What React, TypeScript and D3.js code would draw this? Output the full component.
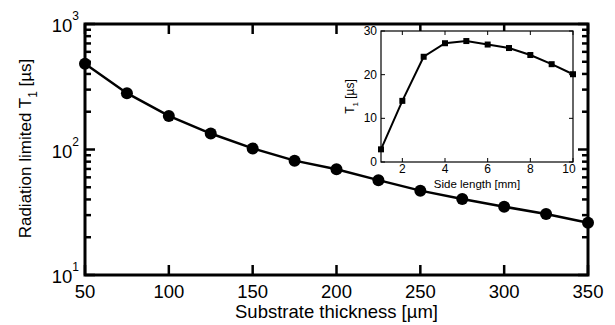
import React from "react";
import * as d3 from "d3";

const thickness = [50, 75, 100, 125, 150, 175, 200, 225, 250, 275, 300, 325, 350];
const t1Main = [482, 281, 185, 134, 102, 81.5, 69.5, 57, 47, 40.3, 35, 30.6, 26.1];
const xTicks = [50, 100, 150, 200, 250, 300, 350];
const yMajor = [10, 100, 1000];
const yExp = ["1", "2", "3"];

const sideLength = [1, 2, 3, 4, 5, 6, 7, 8, 9, 10];
const t1Inset = [2.9, 14.0, 24.1, 27.2, 27.7, 26.9, 26.1, 24.5, 22.4, 20.1];
const insetXTicks = [2, 4, 6, 8, 10];
const insetYTicks = [0, 10, 20, 30];

export default function App() {
  const L = 85, R = 588, T = 24, B = 275;
  const x = d3.scaleLinear().domain([50, 350]).range([L, R]);
  const y = d3.scaleLog().domain([10, 1000]).range([B, T]);
  const minor: number[] = [];
  for (const dec of [10, 100]) for (let k = 2; k <= 9; k++) minor.push(dec * k);

  const line = d3.line<number>().x((_, i) => x(thickness[i])).y((d) => y(d));

  const iL = 381, iR = 573, iT = 31, iB = 162;
  const ix = d3.scaleLinear().domain([1, 10]).range([iL, iR]);
  const iy = d3.scaleLinear().domain([0, 30]).range([iB, iT]);
  const iline = d3.line<number>().x((_, i) => ix(sideLength[i])).y((d) => iy(d));

  const font = "Liberation Sans, Arial, Helvetica, sans-serif";

  return (
    <svg width={615} height={325} style={{ position: "absolute", left: 0, top: 0, background: "#fff" }} fontFamily={font}>
      <rect x={0} y={0} width={615} height={325} fill="#fff" />
      {/* main ticks */}
      {xTicks.map((t) => (
        <g key={"xt" + t}>
          <line x1={x(t)} x2={x(t)} y1={B} y2={B - 10} stroke="#000" strokeWidth={2.5} />
          <line x1={x(t)} x2={x(t)} y1={T} y2={T + 10} stroke="#000" strokeWidth={2.5} />
          <text x={x(t)} y={298} textAnchor="middle" fontSize={18.5}>{t}</text>
        </g>
      ))}
      {yMajor.map((t, i) => (
        <g key={"ym" + t}>
          <line x1={L} x2={L + 10} y1={y(t)} y2={y(t)} stroke="#000" strokeWidth={2.5} />
          <line x1={R} x2={R - 10} y1={y(t)} y2={y(t)} stroke="#000" strokeWidth={2.5} />
          <text x={79} y={y(t) + 8} textAnchor="end" fontSize={18.5}>
            10<tspan dy={-12} fontSize={12}>{yExp[i]}</tspan>
          </text>
        </g>
      ))}
      {minor.map((t) => (
        <g key={"mn" + t}>
          <line x1={L} x2={L + 6} y1={y(t)} y2={y(t)} stroke="#000" strokeWidth={2.5} />
          <line x1={R} x2={R - 6} y1={y(t)} y2={y(t)} stroke="#000" strokeWidth={2.5} />
        </g>
      ))}
      <rect x={L} y={T} width={R - L} height={B - T} fill="none" stroke="#000" strokeWidth={3} />
      <path d={line(t1Main) || ""} fill="none" stroke="#000" strokeWidth={2.5} />
      {t1Main.map((v, i) => (
        <circle key={"c" + i} cx={x(thickness[i])} cy={y(v)} r={6} fill="#000" />
      ))}
      <text x={(L + R) / 2} y={318} textAnchor="middle" fontSize={18.5}>Substrate thickness [µm]</text>
      <text transform={`translate(31,${(T + B) / 2 - 1}) rotate(-90)`} textAnchor="middle" fontSize={17}>
        Radiation limited T<tspan dy={6} fontSize={12}>1</tspan><tspan dy={-6}> [µs]</tspan>
      </text>

      {/* inset */}
      <rect x={iL} y={iT} width={iR - iL} height={iB - iT} fill="#fff" stroke="none" />
      {insetXTicks.map((t) => (
        <g key={"ixt" + t}>
          <line x1={ix(t)} x2={ix(t)} y1={iB} y2={iB - 4} stroke="#000" strokeWidth={1} />
          <line x1={ix(t)} x2={ix(t)} y1={iT} y2={iT + 4} stroke="#000" strokeWidth={1} />
          <text x={ix(t) - (t === 10 ? 4 : 0)} y={173} textAnchor="middle" fontSize={12}>{t}</text>
        </g>
      ))}
      {insetYTicks.map((t) => (
        <g key={"iyt" + t}>
          <line x1={iL} x2={iL + 4} y1={iy(t)} y2={iy(t)} stroke="#000" strokeWidth={1} />
          <line x1={iR} x2={iR - 4} y1={iy(t)} y2={iy(t)} stroke="#000" strokeWidth={1} />
          <text x={377} y={iy(t) + 4} textAnchor="end" fontSize={12}>{t}</text>
        </g>
      ))}
      <rect x={iL} y={iT} width={iR - iL} height={iB - iT} fill="none" stroke="#000" strokeWidth={1.2} />
      <path d={iline(t1Inset) || ""} fill="none" stroke="#000" strokeWidth={2} />
      {t1Inset.map((v, i) => (
        <rect key={"s" + i} x={ix(sideLength[i]) - 3} y={iy(v) - 3} width={6} height={6} fill="#000" />
      ))}
      <text x={(iL + iR) / 2} y={187.5} textAnchor="middle" fontSize={11.5}>Side length [mm]</text>
      <text transform={`translate(354,${(iT + iB) / 2}) rotate(-90)`} textAnchor="middle" fontSize={12}>
        T<tspan dy={4} fontSize={8}>1</tspan><tspan dy={-4}> [µs]</tspan>
      </text>
    </svg>
  );
}
